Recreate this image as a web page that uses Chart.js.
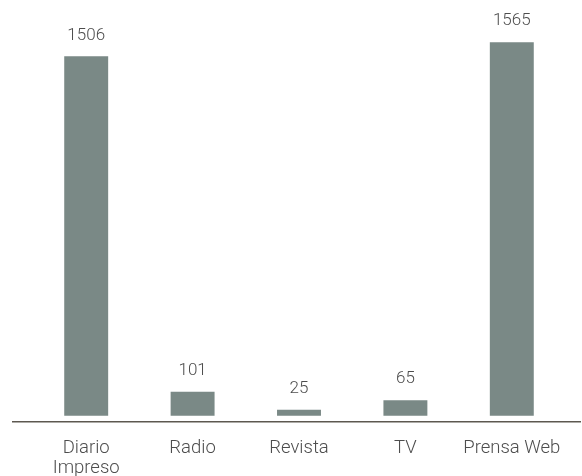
<!DOCTYPE html>
<html>
<head>
<meta charset="utf-8">
<script src="https://cdn.jsdelivr.net/npm/chart.js@4"></script>
<style>
html,body{margin:0;padding:0;background:#fff;}
#wrap{width:582px;height:476px;position:relative;}
</style>
</head>
<body>
<div id="wrap"><canvas id="grafico"></canvas></div>
<script>
const medios=[["Diario","Impreso"],"Radio","Revista","TV","Prensa Web"];
const notas=[1506,101,25,65,1565];

const colorBarra="#7a8986";
const colorTexto="#4d4d4d";
const fuente="Roboto";

// linea base larga y numeros encima de cada barra
const extras={
id:"extras",
afterDatasetsDraw(chart){
const ctx=chart.ctx;
const area=chart.chartArea;
ctx.save();
ctx.strokeStyle="#5d5850";
ctx.lineWidth=1.6;
ctx.beginPath();
ctx.moveTo(12,area.bottom);
ctx.lineTo(581,area.bottom);
ctx.stroke();
ctx.fillStyle=colorTexto;
ctx.font="300 17px "+fuente;
ctx.textAlign="center";
ctx.textBaseline="middle";
chart.getDatasetMeta(0).data.forEach((bar,i)=>{
ctx.fillText(String(notas[i]),bar.x,bar.y-21);
});
ctx.restore();
}
};

new Chart(document.getElementById("grafico"),{
type:"bar",
data:{labels:medios,datasets:[{data:notas,backgroundColor:colorBarra,barPercentage:0.413,categoryPercentage:1}]},
options:{
responsive:true,maintainAspectRatio:false,animation:false,
layout:{padding:{left:33,right:17,top:10,bottom:0}},
plugins:{legend:{display:false},tooltip:{enabled:false}},
scales:{
x:{
grid:{display:false,drawTicks:false},
border:{display:false},
ticks:{color:colorTexto,padding:16,font:{family:fuente,size:18.5,weight:300,lineHeight:1.1}},
afterFit(s){s.height=54.3;}
},
y:{display:false,min:-25,max:1700}
}
},
plugins:[extras]
});
</script>
</body>
</html>
